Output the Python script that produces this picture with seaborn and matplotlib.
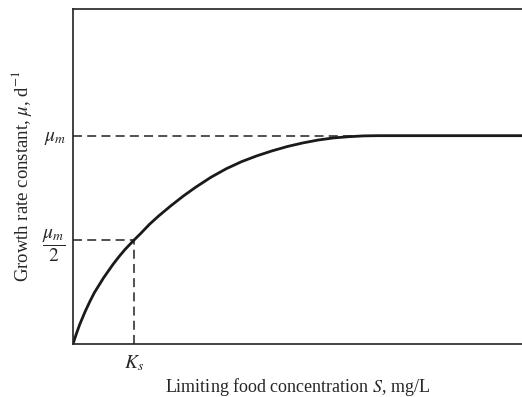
import pandas as pd
import matplotlib
matplotlib.use("Agg")
import matplotlib.pyplot as plt
import seaborn as sns

# Substrate concentration, in units of Ks, and growth rate in units of mu_m
S_values = [0, 0.05, 0.11, 0.2, 0.28, 0.35, 0.5, 0.65, 0.75, 0.85, 1.0, 1.1, 1.25, 1.4,
            1.6, 1.8, 2.0, 2.25, 2.5, 2.75, 3.0, 3.25, 3.5, 3.75, 4.0, 4.25, 4.5, 4.75,
            5.0, 7.4]
mu_values = [0, 0.045, 0.094, 0.157, 0.207, 0.247, 0.318, 0.381, 0.419, 0.454, 0.5, 0.529,
             0.575, 0.615, 0.664, 0.71, 0.752, 0.8, 0.841, 0.875, 0.903, 0.927, 0.948,
             0.965, 0.979, 0.989, 0.995, 0.999, 1.0, 1.0]

Ks = 1.0
mu_m = 1.0
x_ticks = [Ks]
x_tick_labels = ["$K_s$"]
y_ticks = [mu_m / 2, mu_m]
y_tick_labels = [r"$\dfrac{\mu_m}{2}$", r"$\mu_m$"]

sns.set_theme(style="white")
plt.rcParams["font.family"] = ["Liberation Serif", "DejaVu Serif"]
plt.rcParams["mathtext.fontset"] = "stix"

df = pd.DataFrame({"S": S_values, "mu": mu_values})

fig = plt.figure(figsize=(5.22, 3.97), dpi=100)
ax = fig.add_axes([73 / 522, 53 / 397, 449 / 522, 335 / 397])

# guide lines
dash = dict(color="#222222", linewidth=1.1, dashes=(5.9, 3.4))
ax.plot([0, 5.0], [mu_m, mu_m], **dash)
ax.plot([0, Ks], [mu_m / 2, mu_m / 2], **dash)
ax.plot([Ks, Ks], [0, mu_m / 2], **dash)

sns.lineplot(data=df, x="S", y="mu", ax=ax, color="#1a1a1a", linewidth=2.0, sort=False)

ax.set_xlim(0, 7.33)
ax.set_ylim(0, 1.608)

ax.set_xticks(x_ticks)
ax.set_xticklabels(x_tick_labels, fontsize=14)
ax.set_yticks(y_ticks)
ax.set_yticklabels(y_tick_labels, fontsize=14)
ax.tick_params(axis="both", length=0)
ax.tick_params(axis="x", pad=7)
ax.tick_params(axis="y", pad=5)

ax.set_xlabel("Limiting food concentration $S$, mg/L", fontsize=13, labelpad=2)
ax.set_ylabel(r"Growth rate constant, $\mu$, d$^{-1}$", fontsize=13.5, labelpad=6)

ax.spines["right"].set_visible(False)
for side in ["left", "bottom", "top"]:
    ax.spines[side].set_color("#222222")
    ax.spines[side].set_linewidth(1.2)

fig.savefig("out.png", dpi=100)
